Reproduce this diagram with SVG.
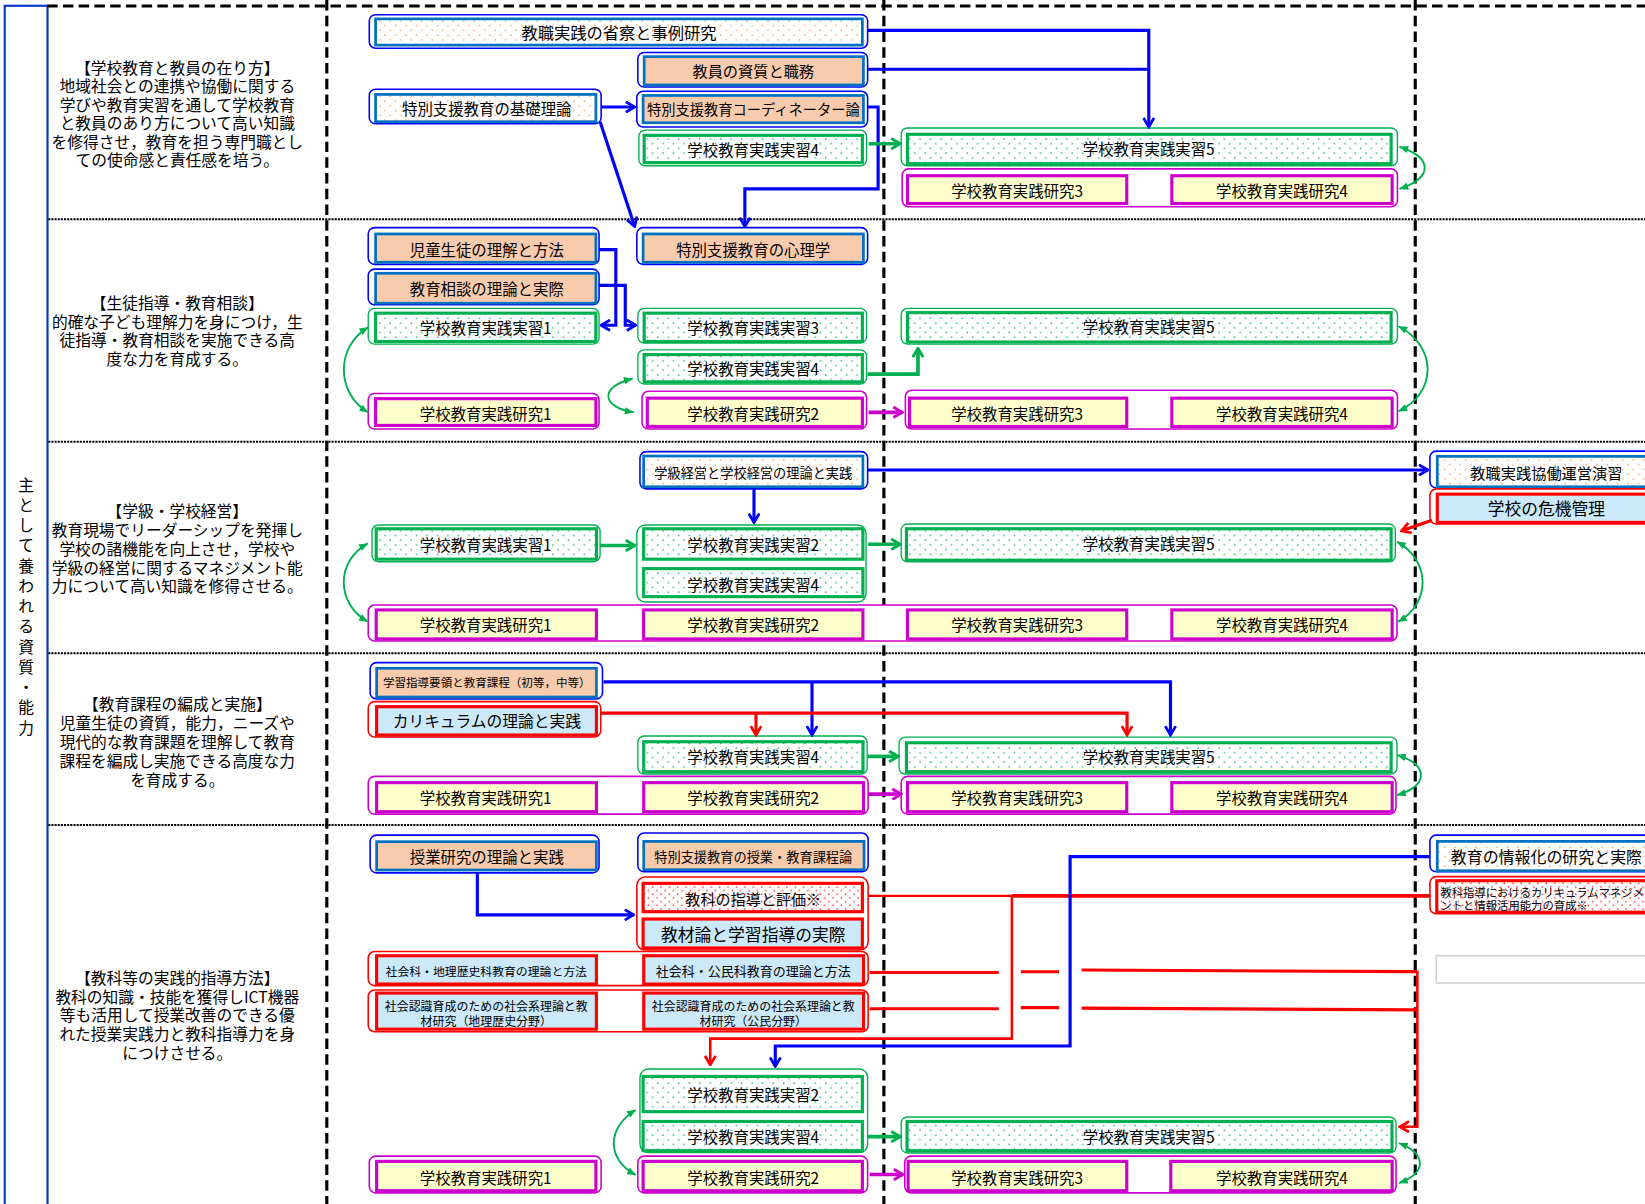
<svg xmlns="http://www.w3.org/2000/svg" width="1645" height="1204" viewBox="0 0 1645 1204">
<defs>
<style>
text{font-family:"Noto Sans CJK JP","Noto Sans CJK SC",sans-serif;fill:#000;text-anchor:middle;dominant-baseline:central;font-size:14.7px}
.d{font-size:15px}
.ob{fill:#fff;stroke:#0000FF;stroke-width:1.5}
.ib{stroke:#0070C0;stroke-width:2.6}
.pe{fill:#F8CBAD}
.od{fill:url(#od)}
.og{fill:#fff;stroke:#00B050;stroke-width:1.3}
.ig{fill:url(#gd);stroke:#00B050;stroke-width:3}
.om{fill:#fff;stroke:#CC00CC;stroke-width:1.5}
.im{fill:#FFFFCC;stroke:#CC00CC;stroke-width:3}
.or{fill:#fff;stroke:#FF0000;stroke-width:1.5}
.ir{fill:#CCE9FA;stroke:#FF0000;stroke-width:3}
.rd{fill:url(#rdp);stroke:#FF0000;stroke-width:3}
.cb{fill:none;stroke:#0000FF;stroke-width:3}
.cgn{fill:none;stroke:#00B050;stroke-width:3.5}
.cm{fill:none;stroke:#CC00CC;stroke-width:3.5}
.cr{fill:none;stroke:#FF0000;stroke-width:3}
.cc{fill:none;stroke:#00B050;stroke-width:1.8}
.vd{stroke:#000;stroke-width:3;stroke-dasharray:10,5}
.hd{stroke:#000;stroke-width:2;stroke-dasharray:2,1}
</style>
<pattern id="od" width="10" height="9" patternUnits="userSpaceOnUse"><rect width="10" height="9" fill="#fff"/><circle cx="2" cy="2" r="0.8" fill="#F4A870"/><circle cx="7" cy="6.5" r="0.8" fill="#F4A870"/></pattern>
<pattern id="gd" width="10" height="9" patternUnits="userSpaceOnUse"><rect width="10" height="9" fill="#fff"/><circle cx="2" cy="2" r="0.8" fill="#33BB77"/><circle cx="7" cy="6.5" r="0.8" fill="#33BB77"/></pattern>
<pattern id="rdp" width="8" height="7" patternUnits="userSpaceOnUse"><rect width="8" height="7" fill="#fff"/><circle cx="2" cy="2" r="0.8" fill="#FF4040"/><circle cx="6" cy="5.5" r="0.8" fill="#FF4040"/></pattern>
<marker id="ab" viewBox="0 0 12 12" refX="10.5" refY="6" markerWidth="12" markerHeight="12" markerUnits="userSpaceOnUse" orient="auto"><path d="M2,1 L10.5,6 L2,11" fill="none" stroke="#0000FF" stroke-width="2.6"/></marker>
<marker id="ag" viewBox="0 0 12 12" refX="10.5" refY="6" markerWidth="12" markerHeight="12" markerUnits="userSpaceOnUse" orient="auto"><path d="M2,1 L10.5,6 L2,11" fill="none" stroke="#00B050" stroke-width="2.8"/></marker>
<marker id="am" viewBox="0 0 12 12" refX="10.5" refY="6" markerWidth="12" markerHeight="12" markerUnits="userSpaceOnUse" orient="auto"><path d="M2,1 L10.5,6 L2,11" fill="none" stroke="#CC00CC" stroke-width="2.8"/></marker>
<marker id="ar" viewBox="0 0 12 12" refX="10.5" refY="6" markerWidth="12" markerHeight="12" markerUnits="userSpaceOnUse" orient="auto"><path d="M2,1 L10.5,6 L2,11" fill="none" stroke="#FF0000" stroke-width="2.6"/></marker>
<marker id="cgm" viewBox="0 0 10 8" refX="9.5" refY="4" markerWidth="9" markerHeight="7" markerUnits="userSpaceOnUse" orient="auto-start-reverse"><path d="M0,0 L10,4 L0,8 z" fill="#00B050"/></marker>
</defs>
<rect width="1645" height="1204" fill="#fff"/>
<g transform="scale(1.04911)">
<g id="grid">
<rect x="4.5" y="5.5" width="40.8" height="1160" fill="none" stroke="#0033CC" stroke-width="2"/>
<line x1="45" y1="5.7" x2="1570" y2="5.7" class="vd"/>
<line x1="311.5" y1="0" x2="311.5" y2="1150" class="vd"/>
<line x1="842.5" y1="0" x2="842.5" y2="1150" class="vd"/>
<line x1="1349" y1="0" x2="1349" y2="1150" class="vd"/>
<line x1="46" y1="209" x2="1570" y2="209" class="hd"/>
<line x1="46" y1="421" x2="1570" y2="421" class="hd"/>
<line x1="46" y1="622.6" x2="1570" y2="622.6" class="hd"/>
<line x1="46" y1="786.4" x2="1570" y2="786.4" class="hd"/>
</g>
<g id="label-column">
<text class="d" x="25"><tspan x="25" y="461">主</tspan><tspan x="25" y="480.3">と</tspan><tspan x="25" y="499.6">し</tspan><tspan x="25" y="518.9">て</tspan><tspan x="25" y="538.2">養</tspan><tspan x="25" y="557.5">わ</tspan><tspan x="25" y="576.8">れ</tspan><tspan x="25" y="596.1">る</tspan><tspan x="25" y="615.4">資</tspan><tspan x="25" y="634.7">質</tspan><tspan x="25" y="654">・</tspan><tspan x="25" y="673.3">能</tspan><tspan x="25" y="692.6">力</tspan></text>
</g>
<g id="descriptions">
<text id="desc1" class="d"><tspan x="169" y="63.5">【学校教育と教員の在り方】</tspan><tspan x="169" y="81.2">地域社会との連携や協働に関する</tspan><tspan x="169" y="98.9">学びや教育実習を通して学校教育</tspan><tspan x="169" y="116.6">と教員のあり方について高い知識</tspan><tspan x="169" y="134.3">を修得させ，教育を担う専門職とし</tspan><tspan x="169" y="152">ての使命感と責任感を培う。</tspan></text>
<text id="desc2" class="d"><tspan x="169" y="287.5">【生徒指導・教育相談】</tspan><tspan x="169" y="305.5">的確な子ども理解力を身につけ，生</tspan><tspan x="169" y="323.5">徒指導・教育相談を実施できる高</tspan><tspan x="169" y="341.5">度な力を育成する。</tspan></text>
<text id="desc3" class="d"><tspan x="169" y="486">【学級・学校経営】</tspan><tspan x="169" y="504">教育現場でリーダーシップを発揮し</tspan><tspan x="169" y="522">学校の諸機能を向上させ，学校や</tspan><tspan x="169" y="540">学級の経営に関するマネジメント能</tspan><tspan x="169" y="558">力について高い知識を修得させる。</tspan></text>
<text id="desc4" class="d"><tspan x="169" y="670">【教育課程の編成と実施】</tspan><tspan x="169" y="688.2">児童生徒の資質，能力，ニーズや</tspan><tspan x="169" y="706.4">現代的な教育課題を理解して教育</tspan><tspan x="169" y="724.6">課程を編成し実施できる高度な力</tspan><tspan x="169" y="742.8">を育成する。</tspan></text>
<text id="desc5" class="d"><tspan x="169" y="931">【教科等の実践的指導方法】</tspan><tspan x="169" y="949">教科の知識・技能を獲得しICT機器</tspan><tspan x="169" y="967">等も活用して授業改善のできる優</tspan><tspan x="169" y="985">れた授業実践力と教科指導力を身</tspan><tspan x="169" y="1003">につけさせる。</tspan></text>
</g>
<!-- Section 1 -->
<g id="n-shousatsu"><rect class="ob" x="352" y="14" width="475" height="32" rx="6"/><rect class="ib od" x="358" y="18" width="464" height="25"/><text x="590" y="30.5" style="font-size:15.5px">教職実践の省察と事例研究</text></g>
<g id="n-shishitsu"><rect class="ob" x="608" y="50" width="219" height="33" rx="6"/><rect class="ib pe" x="614" y="54" width="209" height="27"/><text x="718" y="67" style="font-size:14.5px">教員の資質と職務</text></g>
<g id="n-kiso"><rect class="ob" x="352" y="85" width="221" height="33" rx="6"/><rect class="ib od" x="358" y="90" width="210" height="26"/><text x="464" y="103">特別支援教育の基礎理論</text></g>
<g id="n-coord"><rect class="ob" x="607" y="87" width="220" height="34" rx="6"/><rect class="ib pe" x="613" y="91" width="210" height="26"/><text x="718" y="103.5" style="font-size:13.6px">特別支援教育コーディネーター論</text></g>
<g id="n-s1-jisshu4"><rect class="og" x="609" y="124" width="217" height="34" rx="6"/><rect class="ig" x="614" y="129" width="208" height="26"/><text x="718" y="142">学校教育実践実習4</text></g>
<g id="n-s1-jisshu5"><rect class="og" x="859" y="122" width="473" height="36" rx="6"/><rect class="ig" x="865" y="128" width="461" height="28"/><text x="1095" y="141">学校教育実践実習5</text></g>
<g id="n-s1-kenkyu34"><rect class="om" x="860" y="161" width="472" height="36" rx="6"/><rect class="im" x="865" y="167.5" width="209" height="26.5"/><text x="969.5" y="181">学校教育実践研究3</text><rect class="im" x="1117" y="167.5" width="210" height="26.5"/><text x="1222" y="181">学校教育実践研究4</text></g>
<!-- Section 2 -->
<g id="n-jido"><rect class="ob" x="351" y="217" width="220" height="35" rx="6"/><rect class="ib pe" x="358" y="223" width="210" height="27"/><text x="464" y="237">児童生徒の理解と方法</text></g>
<g id="n-shinri"><rect class="ob" x="607" y="217" width="220" height="35" rx="6"/><rect class="ib pe" x="613" y="223" width="210" height="27"/><text x="718" y="237">特別支援教育の心理学</text></g>
<g id="n-sodan"><rect class="ob" x="351" y="256.5" width="220" height="34" rx="6"/><rect class="ib pe" x="358" y="260.5" width="210" height="28.5"/><text x="464" y="274.5">教育相談の理論と実際</text></g>
<g id="n-s2-jisshu1"><rect class="og" x="351" y="294" width="220" height="34" rx="6"/><rect class="ig" x="358" y="298.5" width="210" height="27"/><text x="463" y="312">学校教育実践実習1</text></g>
<g id="n-s2-jisshu3"><rect class="og" x="608" y="294" width="218" height="33" rx="6"/><rect class="ig" x="614" y="298.5" width="208" height="27"/><text x="718" y="312">学校教育実践実習3</text></g>
<g id="n-s2-jisshu4"><rect class="og" x="608" y="333.5" width="218" height="32.5" rx="6"/><rect class="ig" x="614" y="338" width="208" height="26"/><text x="718" y="351">学校教育実践実習4</text></g>
<g id="n-s2-kenkyu1"><rect class="om" x="351" y="375" width="220" height="34" rx="6"/><rect class="im" x="358" y="380" width="210" height="25.5"/><text x="463" y="393.5">学校教育実践研究1</text></g>
<g id="n-s2-kenkyu2"><rect class="om" x="612" y="373" width="214" height="36" rx="6"/><rect class="im" x="617" y="379.5" width="205" height="27"/><text x="718" y="393.5">学校教育実践研究2</text></g>
<g id="n-s2-jisshu5"><rect class="og" x="859" y="294" width="473" height="34" rx="6"/><rect class="ig" x="865" y="298" width="461" height="28"/><text x="1095" y="311">学校教育実践実習5</text></g>
<g id="n-s2-kenkyu34"><rect class="om" x="863" y="372" width="469" height="37" rx="6"/><rect class="im" x="867" y="379.5" width="207" height="27"/><text x="969.5" y="393.5">学校教育実践研究3</text><rect class="im" x="1117" y="379.5" width="210" height="27"/><text x="1222" y="393.5">学校教育実践研究4</text></g>
<!-- Section 3 -->
<g id="n-keiei"><rect class="ob" x="610" y="430.5" width="217" height="35.5" rx="6"/><rect class="ib od" x="613.5" y="434.7" width="209" height="29.3"/><text x="718" y="450" style="font-size:12.6px">学級経営と学校経営の理論と実践</text></g>
<g id="n-kyodo"><rect class="ob" x="1363" y="430" width="260" height="35" rx="6"/><rect class="ib od" x="1370" y="435" width="260" height="29"/><text x="1474" y="450" style="font-size:14.5px">教職実践協働運営演習</text></g>
<g id="n-kiki"><rect class="or" x="1363" y="466" width="260" height="33.5" rx="6"/><rect class="ir" x="1370" y="471" width="260" height="27"/><text x="1474" y="484.5" style="font-size:16px">学校の危機管理</text></g>
<g id="n-s3-jisshu1"><rect class="og" x="354.6" y="500.4" width="217.4" height="35" rx="6"/><rect class="ig" x="358.6" y="504" width="210" height="29"/><text x="463" y="519">学校教育実践実習1</text></g>
<g id="n-s3-jisshu24"><rect class="og" x="607" y="500.4" width="218.5" height="73.4" rx="8"/><rect class="ig" x="613.5" y="504" width="209" height="29"/><text x="718" y="519">学校教育実践実習2</text><rect class="ig" x="613.5" y="542" width="209" height="26.7"/><text x="718" y="556.5">学校教育実践実習4</text></g>
<g id="n-s3-jisshu5"><rect class="og" x="859" y="499.5" width="471" height="36" rx="6"/><rect class="ig" x="864" y="504" width="462" height="30"/><text x="1095" y="518">学校教育実践実習5</text></g>
<g id="n-s3-kenkyu"><rect class="om" x="351" y="576.7" width="980.6" height="34.3" rx="6"/><rect class="im" x="358.6" y="581.4" width="209.9" height="27.6"/><text x="463" y="595">学校教育実践研究1</text><rect class="im" x="613.5" y="581.4" width="209" height="27.6"/><text x="718" y="595">学校教育実践研究2</text><rect class="im" x="865" y="581.4" width="209" height="27.6"/><text x="969.5" y="595">学校教育実践研究3</text><rect class="im" x="1117" y="581.4" width="210" height="27.6"/><text x="1222" y="595">学校教育実践研究4</text></g>
<!-- Section 4 -->
<g id="n-yoryo"><rect class="ob" x="352.8" y="631.6" width="221.5" height="34.7" rx="6"/><rect class="ib pe" x="359" y="637" width="209.5" height="27.4"/><text x="464" y="650.5" style="font-size:11px">学習指導要領と教育課程（初等，中等）</text></g>
<g id="n-curriculum"><rect class="or" x="351" y="668.8" width="221.6" height="33.7" rx="6"/><rect class="ir" x="359" y="673.6" width="209.5" height="27"/><text x="464" y="687" style="font-size:15px">カリキュラムの理論と実践</text></g>
<g id="n-s4-jisshu4"><rect class="og" x="608" y="701.6" width="218.6" height="36.2" rx="6"/><rect class="ig" x="613.6" y="707" width="209" height="28.6"/><text x="718" y="721">学校教育実践実習4</text></g>
<g id="n-s4-jisshu5"><rect class="og" x="857" y="702.6" width="474.6" height="35.2" rx="6"/><rect class="ig" x="864" y="708" width="462" height="27.6"/><text x="1095" y="721">学校教育実践実習5</text></g>
<g id="n-s4-kenkyu12"><rect class="om" x="351" y="740" width="476.5" height="36" rx="6"/><rect class="im" x="359" y="746" width="209.5" height="27.7"/><text x="463" y="760">学校教育実践研究1</text><rect class="im" x="613.6" y="746" width="209.5" height="27.7"/><text x="718" y="760">学校教育実践研究2</text></g>
<g id="n-s4-kenkyu34"><rect class="om" x="859" y="740" width="471.6" height="36" rx="6"/><rect class="im" x="865" y="746" width="209" height="27.7"/><text x="969.5" y="760">学校教育実践研究3</text><rect class="im" x="1117" y="746" width="210" height="27.7"/><text x="1222" y="760">学校教育実践研究4</text></g>
<!-- Section 5 -->
<g id="n-jugyo"><rect class="ob" x="352.8" y="796" width="218.2" height="36" rx="6"/><rect class="ib pe" x="359" y="802.3" width="209.5" height="27"/><text x="464" y="815.5">授業研究の理論と実践</text></g>
<g id="n-tokushi-jugyo"><rect class="ob" x="608" y="794" width="219.5" height="37" rx="6"/><rect class="ib pe" x="613.6" y="802" width="210" height="27"/><text x="718" y="816" style="font-size:12.6px">特別支援教育の授業・教育課程論</text></g>
<g id="n-kyoka"><rect class="or" x="607" y="836" width="220.5" height="69.6" rx="8"/><rect class="rd" x="613" y="842" width="209" height="27"/><text x="718" y="855.5" style="font-size:14.4px">教科の指導と評価※</text><rect class="ir" x="613" y="876" width="209" height="27.6"/><text x="718" y="890" style="font-size:16px">教材論と学習指導の実際</text></g>
<g id="n-shakai1"><rect class="or" x="351" y="907" width="476.5" height="32.5" rx="6"/><rect class="ir" x="359" y="911" width="209.5" height="27"/><text x="463.5" y="925" style="font-size:11.3px">社会科・地理歴史科教育の理論と方法</text><rect class="ir" x="613.6" y="911" width="209.5" height="27"/><text x="718" y="925" style="font-size:12.4px">社会科・公民科教育の理論と方法</text></g>
<g id="n-shakai2"><rect class="or" x="351" y="943.7" width="476.5" height="39.7" rx="6"/><rect class="ir" x="359" y="946.6" width="209.5" height="34.4"/><text style="font-size:11.4px"><tspan x="463.5" y="958">社会認識育成のための社会系理論と教</tspan><tspan x="463.5" y="972.5">材研究（地理歴史分野）</tspan></text><rect class="ir" x="613.6" y="946.6" width="209.5" height="34.4"/><text style="font-size:11.4px"><tspan x="718" y="958">社会認識育成のための社会系理論と教</tspan><tspan x="718" y="972.5">材研究（公民分野）</tspan></text></g>
<g id="n-johoka"><rect class="ob" x="1363" y="796" width="260" height="35" rx="6"/><rect class="ib od" x="1370" y="802" width="260" height="28"/><text x="1474" y="816" style="font-size:15.2px">教育の情報化の研究と実際</text></g>
<g id="n-kyoka-cm"><rect class="or" x="1363" y="835.6" width="260" height="35.4" rx="6"/><rect class="rd" x="1369.5" y="839.5" width="260" height="30"/><text style="font-size:10.8px;text-anchor:start"><tspan x="1373" y="850">教科指導におけるカリキュラムマネジメ</tspan><tspan x="1373" y="862.6">ントと情報活用能力の育成※</tspan></text></g>
<g id="n-blank"><rect x="1369" y="911" width="260" height="26" fill="none" stroke="#D0D0D0" stroke-width="1.5"/></g>
<g id="n-s5-jisshu24"><rect class="og" x="610" y="1019" width="217" height="79.7" rx="8"/><rect class="ig" x="613" y="1026" width="209" height="33.6"/><text x="718" y="1043">学校教育実践実習2</text><rect class="ig" x="613" y="1069" width="209" height="27.8"/><text x="718" y="1083">学校教育実践実習4</text></g>
<g id="n-s5-jisshu5"><rect class="og" x="859" y="1064.7" width="471.7" height="34.3" rx="6"/><rect class="ig" x="864.6" y="1069" width="462.2" height="27.8"/><text x="1095" y="1083">学校教育実践実習5</text></g>
<g id="n-s5-kenkyu1"><rect class="om" x="352" y="1102" width="221" height="35" rx="6"/><rect class="im" x="359" y="1107" width="209" height="28"/><text x="463" y="1121.5">学校教育実践研究1</text></g>
<g id="n-s5-kenkyu2"><rect class="om" x="608" y="1102" width="219" height="35" rx="6"/><rect class="im" x="613" y="1107" width="209" height="28"/><text x="718" y="1121.5">学校教育実践研究2</text></g>
<g id="n-s5-kenkyu34"><rect class="om" x="862.4" y="1102" width="468.3" height="35" rx="6"/><rect class="im" x="865.6" y="1107" width="208.4" height="28"/><text x="969.5" y="1121.5">学校教育実践研究3</text><rect class="im" x="1116" y="1107" width="211" height="28"/><text x="1222" y="1121.5">学校教育実践研究4</text></g>
<g id="connectors">
<path class="cb" d="M827,29 H1095 V121" marker-end="url(#ab)"/>
<path class="cb" d="M827,66 H1095"/>
<path class="cb" d="M573,102 H605" marker-end="url(#ab)"/>
<path class="cb" d="M572,116 L605,216" marker-end="url(#ab)"/>
<path class="cb" d="M827,102 H837 V180 H710 V216" marker-end="url(#ab)"/>
<path class="cgn" d="M828,137 H858" marker-end="url(#ag)"/>
<path class="cc" d="M1334,140 C1366,150 1366,170 1334,180" marker-start="url(#cgm)" marker-end="url(#cgm)"/>
<path class="cb" d="M571,238 H587 V310 H573" marker-end="url(#ab)"/>
<path class="cb" d="M571,272 H596 V310 H606" marker-end="url(#ab)"/>
<path class="cc" d="M351,312 C320,330 320,375 351,393" marker-start="url(#cgm)" marker-end="url(#cgm)"/>
<path class="cc" d="M603,361 C572,368 572,388 604,393" marker-start="url(#cgm)" marker-end="url(#cgm)"/>
<path class="cgn" d="M827,356.6 H875 V332" marker-end="url(#ag)"/>
<path class="cm" d="M828,393 H860" marker-end="url(#am)"/>
<path class="cc" d="M1333,311 C1370,330 1370,375 1333,392" marker-start="url(#cgm)" marker-end="url(#cgm)"/>
<path class="cb" d="M718.7,466 V498" marker-end="url(#ab)"/>
<path class="cb" d="M827,448 H1361" marker-end="url(#ab)"/>
<path class="cr" d="M1365,496 L1336,506" marker-end="url(#ar)"/>
<path class="cgn" d="M572,520 H605" marker-end="url(#ag)"/>
<path class="cgn" d="M827.5,518.8 H858" marker-end="url(#ag)"/>
<path class="cc" d="M350.6,518 C320,535 320,575 350.6,592.6" marker-start="url(#cgm)" marker-end="url(#cgm)"/>
<path class="cc" d="M1331.6,516.3 C1364,535 1364,575 1332.6,592.6" marker-start="url(#cgm)" marker-end="url(#cgm)"/>
<path class="cb" d="M575.3,650 H1115.7 V700.6" marker-end="url(#ab)"/>
<path class="cb" d="M774,650 V700.6" marker-end="url(#ab)"/>
<path class="cr" d="M572.6,679.7 H1074.3 V700.6" marker-end="url(#ar)"/>
<path class="cr" d="M720.6,679.7 V700.6" marker-end="url(#ar)"/>
<path class="cgn" d="M827,721 H856" marker-end="url(#ag)"/>
<path class="cm" d="M827.5,757 H859" marker-end="url(#am)"/>
<path class="cc" d="M1331.6,719.7 C1362,728 1362,750 1331.6,757.8" marker-start="url(#cgm)" marker-end="url(#cgm)"/>
<path class="cb" d="M455,832 V872 H604" marker-end="url(#ab)"/>
<path class="cr" style="stroke-width:2.2" d="M827.5,854 H964.5"/>
<path class="cr" style="stroke-width:3.6" d="M964.5,854 H1363"/>
<path class="cr" style="stroke-width:2.4" d="M964.5,854 V990 H677 V1015" marker-end="url(#ar)"/>
<path class="cb" d="M1363,816.5 H1020 V997 H739 V1016.5" marker-end="url(#ab)"/>
<path class="cr" d="M829,927 H952 M973,926.3 H1009.5 M1031,924.6 L1350.7,926.2"/>
<path class="cr" style="stroke-width:2.4" d="M1351,925 V1074 H1334.5" marker-end="url(#ar)"/>
<path class="cr" d="M829,961.5 H952 M973,960.5 H1009.5 M1031,961 L1351.5,962.6"/>
<path class="cgn" d="M827,1083.5 H858" marker-end="url(#ag)"/>
<path class="cm" d="M829,1119.5 H860.5" marker-end="url(#am)"/>
<path class="cc" d="M606,1058 C578,1075 578,1105 606,1120" marker-start="url(#cgm)" marker-end="url(#cgm)"/>
<path class="cc" d="M1333.6,1089.6 C1360,1100 1360,1118 1333.6,1127.7" marker-start="url(#cgm)" marker-end="url(#cgm)"/>
</g>
</g>
</svg>
